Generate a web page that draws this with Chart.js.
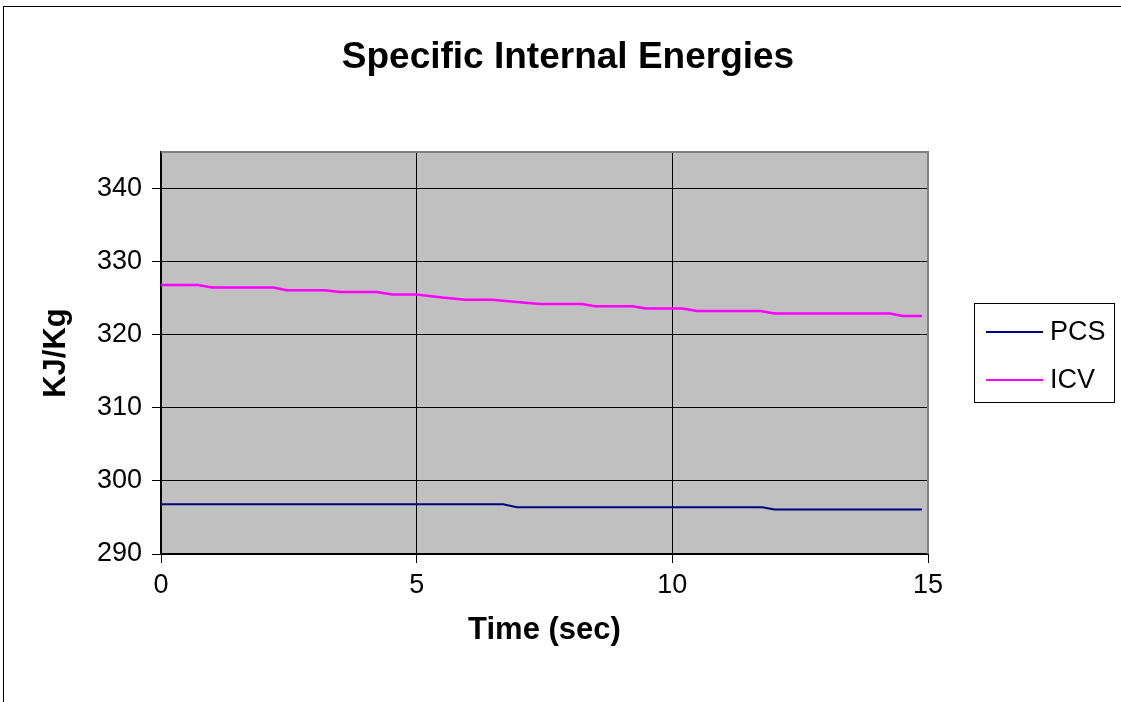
<!DOCTYPE html>
<html>
<head>
<meta charset="utf-8">
<title>Specific Internal Energies</title>
<script src="https://cdn.jsdelivr.net/npm/chart.js@4"></script>
<style>
  html, body { margin: 0; padding: 0; background: #fff; }
  #wrap { width: 1121px; height: 702px; }
</style>
</head>
<body>
<div id="wrap"><canvas id="energyChart" width="1121" height="702"></canvas></div>
<script>
// Data
const pcsTime = [0, 6.69, 6.96, 11.76, 12.0, 14.88];
const pcsValues = [296.8, 296.8, 296.4, 296.4, 296.1, 296.1];

const icvTime = [0, 0.72, 1.0, 2.2, 2.46, 3.2, 3.5, 4.22, 4.52, 5.0, 5.5, 5.95, 6.47, 7.4, 8.23, 8.49, 9.23, 9.47, 10.2, 10.48, 11.72, 12.0, 14.26, 14.5, 14.88];
const icvValues = [326.8, 326.8, 326.45, 326.45, 326.1, 326.1, 325.85, 325.85, 325.5, 325.5, 325.1, 324.8, 324.8, 324.2, 324.2, 323.9, 323.9, 323.6, 323.6, 323.25, 323.25, 322.9, 322.9, 322.55, 322.55];

const xTicks = [0, 5, 10, 15];
const yTicks = [290, 300, 310, 320, 330, 340];

const FONT = '"Liberation Sans", Arial, sans-serif';

function toPoints(xs, ys) {
    return xs.map(function(x, i) { return { x: x, y: ys[i] }; });
}

// Gray plot area, outer frame, title and boxed legend
const excelLook = {
    id: 'excelLook',
    beforeDraw: function(chart) {
        const c = chart.ctx;
        const a = chart.chartArea;
        c.save();
        c.fillStyle = '#fff';
        c.fillRect(0, 0, chart.width, chart.height);
        c.fillStyle = '#C0C0C0';
        c.fillRect(a.left, a.top, a.right - a.left, a.bottom - a.top);
        c.strokeStyle = '#000';
        c.lineWidth = 1;
        c.strokeRect(3.5, 6.5, chart.width + 10, chart.height + 10);
        c.restore();
    },
    afterDatasetsDraw: function(chart) {
        const c = chart.ctx;
        const a = chart.chartArea;
        c.save();
        c.strokeStyle = '#808080';
        c.lineWidth = 2;
        c.beginPath();
        c.moveTo(a.left, a.top);
        c.lineTo(a.right, a.top);
        c.lineTo(a.right, a.bottom);
        c.stroke();

        // title
        c.fillStyle = '#000';
        c.font = 'bold 37px ' + FONT;
        c.textAlign = 'center';
        c.textBaseline = 'middle';
        c.fillText('Specific Internal Energies', 568, 58);

        // legend
        const bx = 974.5, by = 303.5, bw = 140, bh = 99;
        c.strokeStyle = '#000';
        c.lineWidth = 1;
        c.strokeRect(bx, by, bw, bh);
        c.font = '27px ' + FONT;
        c.textAlign = 'left';
        chart.data.datasets.forEach(function(ds, i) {
            const y = 332 + i * 48;
            c.strokeStyle = ds.borderColor;
            c.lineWidth = 2;
            c.beginPath();
            c.moveTo(986, y);
            c.lineTo(1043, y);
            c.stroke();
            c.fillStyle = '#000';
            c.fillText(ds.label, 1050, y + 1);
        });
        c.restore();
    }
};

const ctx = document.getElementById('energyChart').getContext('2d');
const energyChart = new Chart(ctx, {
    type: 'line',
    data: {
        datasets: [{
            label: 'PCS',
            data: toPoints(pcsTime, pcsValues),
            borderColor: '#000080',
            borderWidth: 2,
            pointRadius: 0,
            tension: 0
        }, {
            label: 'ICV',
            data: toPoints(icvTime, icvValues),
            borderColor: '#FF00FF',
            borderWidth: 2.5,
            pointRadius: 0,
            tension: 0
        }]
    },
    options: {
        responsive: false,
        animation: false,
        layout: {
            padding: { left: 3, top: 152, right: 193, bottom: 0 }
        },
        plugins: {
            legend: { display: false },
            title: { display: false },
            tooltip: { enabled: false }
        },
        scales: {
            x: {
                type: 'linear',
                min: 0,
                max: 15,
                afterBuildTicks: function(scale) {
                    scale.ticks = xTicks.map(function(v) { return { value: v }; });
                },
                afterFit: function(scale) {
                    scale.height = 148;
                },
                grid: {
                    color: '#000',
                    lineWidth: 1,
                    tickLength: 9,
                    tickColor: '#000'
                },
                border: { color: '#000', width: 2 },
                ticks: {
                    color: '#000',
                    padding: 6,
                    maxRotation: 0,
                    font: { family: FONT, size: 27 }
                },
                title: {
                    display: true,
                    text: 'Time (sec)',
                    color: '#000',
                    padding: { top: 0, bottom: 53 },
                    font: { family: FONT, size: 31, weight: 'bold' }
                }
            },
            y: {
                min: 290,
                max: 345,
                afterBuildTicks: function(scale) {
                    scale.ticks = yTicks.map(function(v) { return { value: v }; });
                },
                afterFit: function(scale) {
                    scale.width = 158;
                },
                grid: {
                    color: '#000',
                    lineWidth: 1,
                    tickLength: 9,
                    tickColor: '#000'
                },
                border: { color: '#000', width: 2 },
                ticks: {
                    color: '#000',
                    padding: 10,
                    font: { family: FONT, size: 27 }
                },
                title: {
                    display: true,
                    text: 'KJ/Kg',
                    color: '#000',
                    padding: { top: 35, bottom: 0 },
                    font: { family: FONT, size: 31, weight: 'bold' }
                }
            }
        }
    },
    plugins: [excelLook]
});
</script>
</body>
</html>
